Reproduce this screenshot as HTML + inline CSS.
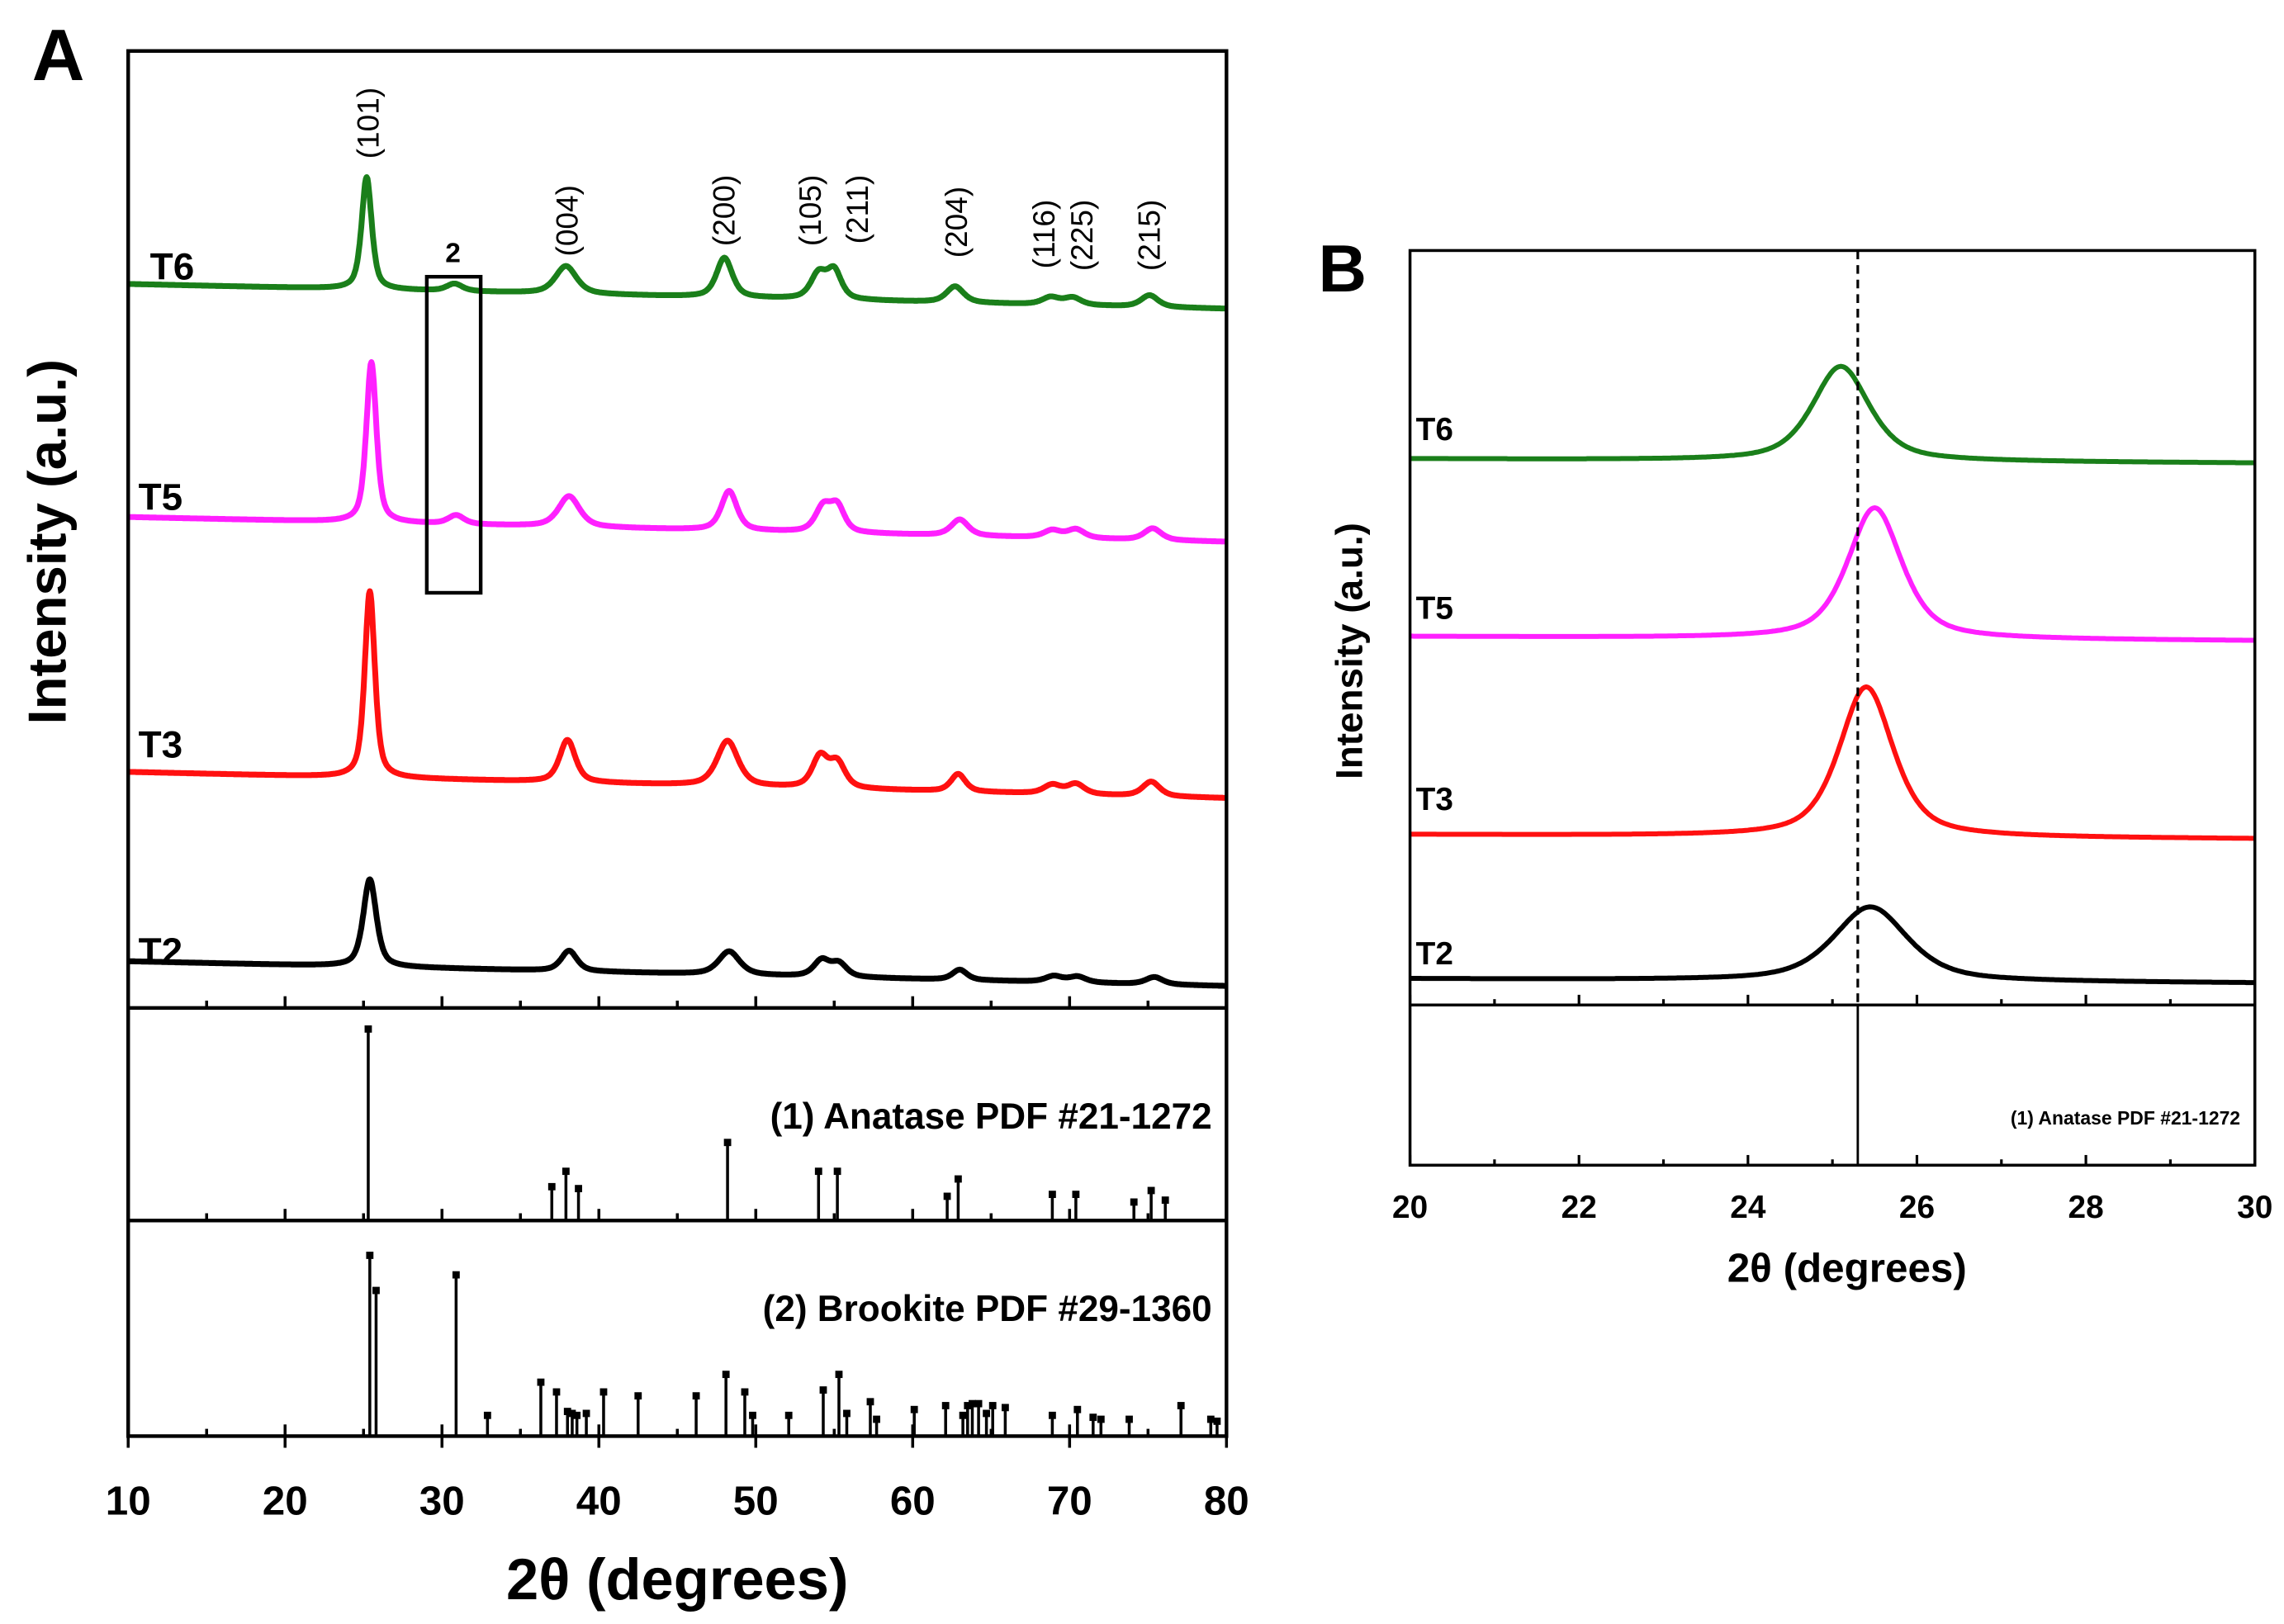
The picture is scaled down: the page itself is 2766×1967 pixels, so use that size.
<!DOCTYPE html>
<html><head><meta charset="utf-8"><style>
html,body{margin:0;padding:0;background:#fff;}
svg{display:block;font-family:"Liberation Sans",Arial,sans-serif;}
</style></head><body>
<svg id="fig" width="2766" height="1967" viewBox="0 0 1568 1115" preserveAspectRatio="none" xmlns="http://www.w3.org/2000/svg">
<rect width="1568" height="1115" fill="#fff"/>
<g id="pa"></g>
<g id="pb"></g>
</svg>
<script>
// ---------- Panel A data ----------
const seriesNamesA = ['T6','T5','T3','T2'];
const seriesColors = ['#1a7f1a','#ff20ff','#ff1010','#000000'];
const baseLeftA  = [497, 337, 162, 32];
const baseRightA = [480, 320, 144, 15];
const peakPosT6 = [25.2, 30.8, 37.9, 48.0, 54.0, 55.0, 62.7, 68.8, 70.2, 75.1];
const peakHtT6  = [77, 5, 19, 27, 17, 19, 11, 5, 5, 8];
const peakPosT5 = [25.5, 30.9, 38.1, 48.3, 54.3, 55.2, 63.0, 68.9, 70.4, 75.3];
const peakHtT5  = [110, 6, 21, 27, 17, 17, 11, 5, 6, 8];
const peakPosT3 = [25.4, 38.0, 48.2, 54.1, 55.2, 62.9, 68.9, 70.4, 75.2];
const peakHtT3  = [128, 29, 31, 21, 17, 12, 6, 7, 10];
const peakPosT2 = [25.4, 38.1, 48.3, 54.2, 55.3, 63.0, 69.0, 70.5, 75.4];
const peakHtT2  = [60, 14, 16, 11, 9, 7, 4, 4, 5];
const peakWidthA = [0.45, 0.6, 0.8, 0.6, 0.6, 0.55, 0.65, 0.65, 0.65, 0.65];
const millerLabels = ['(101)','(004)','(200)','(105)','(211)','(204)','(116)','(225)','(215)'];
const millerPos = [25.3, 38.0, 48.0, 53.5, 56.5, 62.8, 68.4, 70.8, 75.1];
const millerTop = [60, 127, 120, 120, 120, 128, 137, 137, 137];
const anatasePos = [25.3,37.0,37.9,38.7,48.2,54.0,55.2,62.2,62.9,68.9,70.4,74.1,75.2,76.1];
const anataseInt = [100,18,26,17,41,26,26,13,22,14,14,10,16,11];
const brookitePos = [25.4,25.8,30.9,32.9,36.3,37.3,38.0,38.3,38.6,39.2,40.3,42.5,46.2,48.1,49.3,49.8,52.1,54.3,55.3,55.8,57.3,57.7,60.1,62.1,63.2,63.5,63.8,64.2,64.7,65.1,65.9,68.9,70.5,71.5,72.0,73.8,77.1,79.0,79.4];
const brookiteInt = [93,75,83,11,28,23,13,12,11,12,23,21,21,32,23,11,11,24,32,12,18,9,14,16,11,16,17,17,12,16,15,11,14,10,9,9,16,9,8];
const xTicksA = [10,20,30,40,50,60,70,80];

// ---------- Panel B data ----------
const baseB = [375, 253, 117, 18];
const peakPosB = [25.1, 25.5, 25.4, 25.45];
const peakHtB = [65, 90, 103, 51];
const peakWB = [0.4, 0.38, 0.38, 0.52];
const xTicksB = [20,22,24,26,28,30];
const refLineB = 25.3;

const NS='http://www.w3.org/2000/svg';
function mk(parent, tag, attrs, text){
  const e=document.createElementNS(NS,tag);
  for(const k in attrs) e.setAttribute(k,attrs[k]);
  if(text!==undefined) e.textContent=text;
  parent.appendChild(e); return e;
}
function prof(x,p,w){const d=(x-p)/w;return 0.6/(1+d*d)+0.4*Math.exp(-0.693*d*d);}

// ---- Panel A ----
const pa=document.getElementById('pa');
const AL=88, AR=842, AT=35, AB=692, A1=838, A2=986;
const xA=d=>AL+(d-10)*(AR-AL)/70;
const yA=v=>AB-v;
const pp=[[peakPosT6,peakHtT6],[peakPosT5,peakHtT5],[peakPosT3,peakHtT3],[peakPosT2,peakHtT2]];
for(let s=0;s<4;s++){
  let d='';
  for(let x=10;x<=80.0001;x+=0.05){
    let v=baseLeftA[s]+(baseRightA[s]-baseLeftA[s])*(x-10)/70;
    for(let i=0;i<pp[s][0].length;i++) v+=pp[s][1][i]*prof(x,pp[s][0][i],peakWidthA[Math.min(i,9)]*(i==0?(s==3?1.1:0.85):1.0));
    d+=(d?'L':'M')+xA(x).toFixed(1)+','+yA(v).toFixed(1);
  }
  const p=mk(pa,'path',{d:d,fill:'none',stroke:seriesColors[s],'stroke-width':4,'stroke-linejoin':'round'});
  
  
}
const labYA=[192,350,520,662];
for(let s=0;s<4;s++){
  const t=mk(pa,'text',{x:s==0?103:95,y:labYA[s],'font-size':26,'font-weight':'bold'},seriesNamesA[s]);
  
  
}
for(let i=0;i<millerLabels.length;i++){
  const x=xA(millerPos[i])+7, y=millerTop[i];
  const t=mk(pa,'text',{x:x,y:y,'font-size':21,'text-anchor':'end',transform:`rotate(-90 ${x} ${y})`},millerLabels[i]);
  
  
}
mk(pa,'rect',{x:293,y:190,width:37,height:217,fill:'none',stroke:'#000','stroke-width':2.5,});
mk(pa,'text',{x:311,y:180,'font-size':19,'font-weight':'bold','text-anchor':'middle',},'2');
function sticks(pos,ints,top,bot){
  const h=bot-top-14;
  for(let i=0;i<pos.length;i++){
    const x=xA(pos[i]), y=bot-ints[i]/100*h;
    const l=mk(pa,'line',{x1:x,y1:bot,x2:x,y2:y,stroke:'#000','stroke-width':2});
    
    
    mk(pa,'rect',{x:x-2.5,y:y-2,width:5,height:5,fill:'#000',});
  }
}
sticks(anatasePos,anataseInt,AB,A1);
sticks(brookitePos,brookiteInt,A1,A2);
mk(pa,'text',{x:832,y:775,'font-size':25,'font-weight':'bold','text-anchor':'end',},'(1) Anatase PDF #21-1272');
mk(pa,'text',{x:832,y:907,'font-size':25,'font-weight':'bold','text-anchor':'end',},'(2) Brookite PDF #29-1360');
mk(pa,'rect',{x:AL,y:AT,width:AR-AL,height:A2-AT,fill:'none',stroke:'#000','stroke-width':2.5,});
mk(pa,'line',{x1:AL,y1:AB,x2:AR,y2:AB,stroke:'#000','stroke-width':2.5,});
mk(pa,'line',{x1:AL,y1:A1,x2:AR,y2:A1,stroke:'#000','stroke-width':2.5,});
for(let v=10;v<=80;v+=5){
  const x=xA(v), L=(v%10==0)?8:5;
  [AB,A1,A2].forEach(yy=>mk(pa,'line',{x1:x,y1:yy,x2:x,y2:yy-L,stroke:'#000','stroke-width':2,}));
  if(v%10==0) mk(pa,'line',{x1:x,y1:A2,x2:x,y2:A2+8,stroke:'#000','stroke-width':2,});
}
for(const v of xTicksA){
  const t=mk(pa,'text',{x:xA(v),y:1040,'font-size':28,'font-weight':'bold','text-anchor':'middle'},String(v));
  
  
}
mk(pa,'text',{x:465,y:1098,'font-size':40,'font-weight':'bold','text-anchor':'middle',},'2θ (degrees)');
mk(pa,'text',{x:45,y:372,'font-size':37,'font-weight':'bold','text-anchor':'middle',transform:'rotate(-90 45 372)',},'Intensity (a.u.)');
mk(pa,'text',{x:22,y:55,'font-size':50,'font-weight':'bold',},'A');

// ---- Panel B ----
const pb=document.getElementById('pb');
const BL=968, BR=1548, BT=172, BB=690, BB2=800;
const xB=d=>BL+(d-20)*(BR-BL)/10;
const yB=v=>BB-v;
for(let s=0;s<4;s++){
  let d='';
  for(let x=20;x<=30.0001;x+=0.02){
    const v=baseB[s]-(x-20)*0.3+peakHtB[s]*prof(x,peakPosB[s],peakWB[s]);
    d+=(d?'L':'M')+xB(x).toFixed(1)+','+yB(v).toFixed(1);
  }
  const p=mk(pb,'path',{d:d,fill:'none',stroke:seriesColors[s],'stroke-width':3.4,'stroke-linejoin':'round'});
  
  
}
const labYB=[302,425,556,662];
for(let s=0;s<4;s++){
  const t=mk(pb,'text',{x:972,y:labYB[s],'font-size':22,'font-weight':'bold'},seriesNamesA[s]);
  
  
}
mk(pb,'line',{x1:xB(refLineB),y1:BT,x2:xB(refLineB),y2:BB,stroke:'#000','stroke-width':1.8,'stroke-dasharray':'6,4',});
mk(pb,'line',{x1:xB(refLineB),y1:BB,x2:xB(refLineB),y2:BB2,stroke:'#000','stroke-width':1.6,});
mk(pb,'text',{x:1538,y:772,'font-size':13,'font-weight':'bold','text-anchor':'end',},'(1) Anatase PDF #21-1272');
mk(pb,'rect',{x:BL,y:BT,width:BR-BL,height:BB2-BT,fill:'none',stroke:'#000','stroke-width':2,});
mk(pb,'line',{x1:BL,y1:BB,x2:BR,y2:BB,stroke:'#000','stroke-width':2,});
for(let v=20;v<=30;v+=1){
  const x=xB(v), L=(v%2==0)?7:4;
  [BB,BB2].forEach(yy=>mk(pb,'line',{x1:x,y1:yy,x2:x,y2:yy-L,stroke:'#000','stroke-width':1.8,}));
}
for(const v of xTicksB){
  const t=mk(pb,'text',{x:xB(v),y:836,'font-size':22,'font-weight':'bold','text-anchor':'middle'},String(v));
  
  
}
mk(pb,'text',{x:1268,y:880,'font-size':28,'font-weight':'bold','text-anchor':'middle',},'2θ (degrees)');
mk(pb,'text',{x:935,y:447,'font-size':26,'font-weight':'bold','text-anchor':'middle',transform:'rotate(-90 935 447)',},'Intensity (a.u.)');
mk(pb,'text',{x:905,y:200,'font-size':46,'font-weight':'bold',},'B');
</script>
</body></html>
